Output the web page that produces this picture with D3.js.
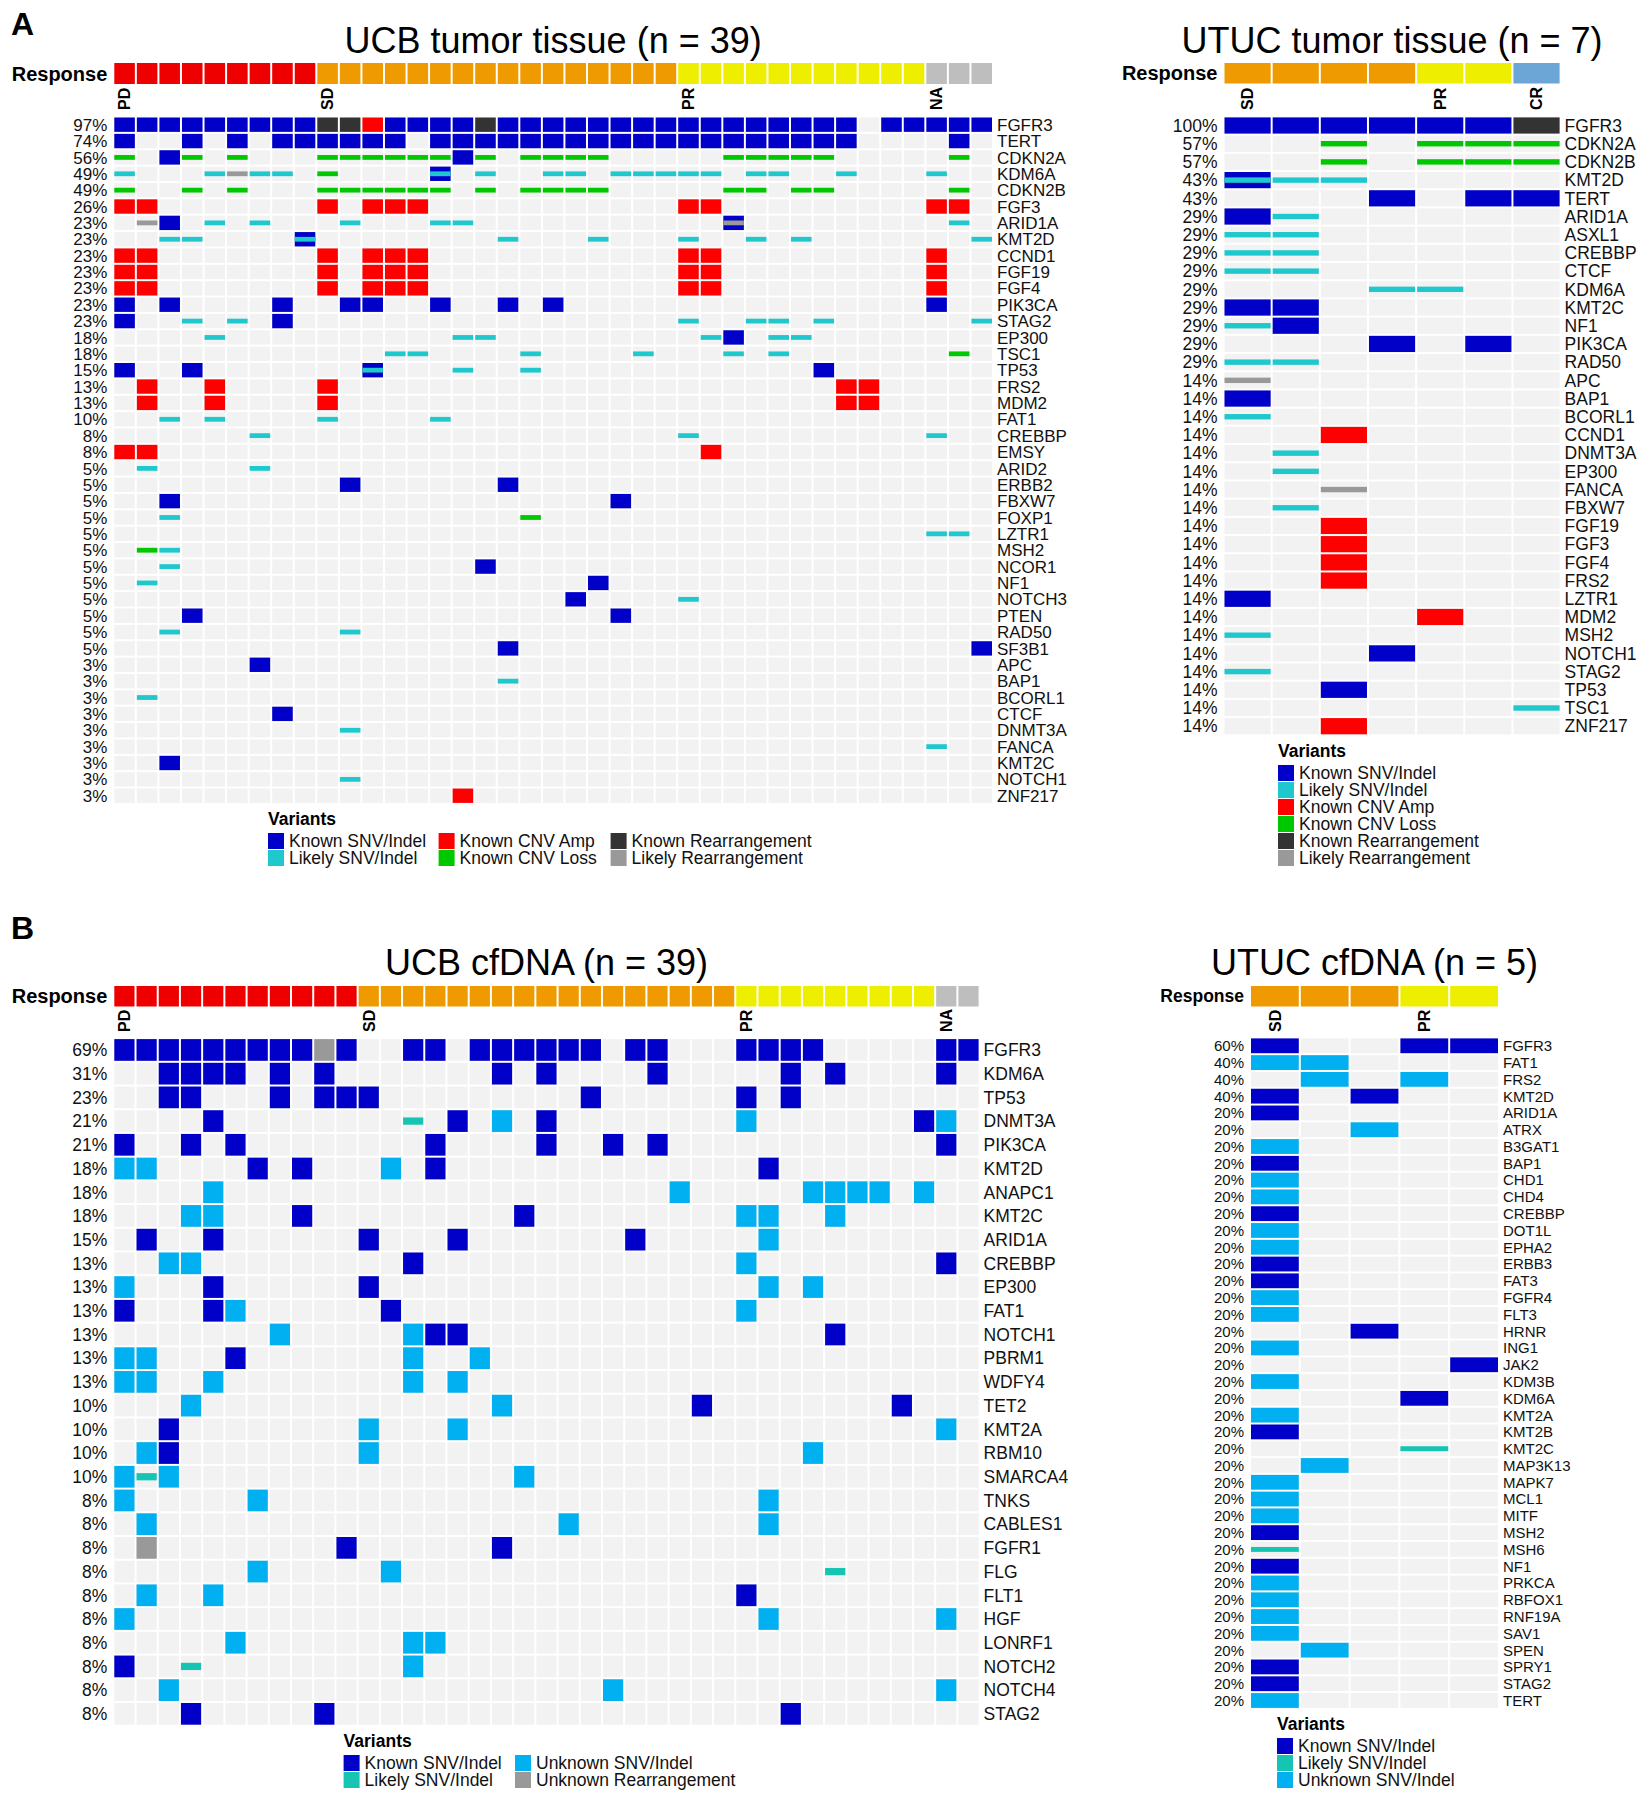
<!DOCTYPE html>
<html><head><meta charset="utf-8">
<script src="https://cdn.jsdelivr.net/npm/d3@7"></script>
<style>body{margin:0;background:#fff}svg{display:block}</style>
</head><body>
<svg id="c" width="1649" height="1800"></svg>
<script>
// ---------------- DATA ----------------
// cell codes: K Known SNV/Indel, L Likely SNV/Indel, A Known CNV Amp, D Known CNV Loss,
// R Known Rearrangement, G Likely Rearrangement, U Unknown SNV/Indel, N Unknown Rearrangement,
// M = K + L, X = K + G, "." none. Spaces are only visual separators.

// Panel A - UCB tumor tissue
const UCB_T_GENES = ["FGFR3","TERT","CDKN2A","KDM6A","CDKN2B","FGF3","ARID1A","KMT2D","CCND1","FGF19","FGF4","PIK3CA","STAG2","EP300","TSC1","TP53","FRS2","MDM2","FAT1","CREBBP","EMSY","ARID2","ERBB2","FBXW7","FOXP1","LZTR1","MSH2","NCOR1","NF1","NOTCH3","PTEN","RAD50","SF3B1","APC","BAP1","BCORL1","CTCF","DNMT3A","FANCA","KMT2C","NOTCH1","ZNF217"];
const UCB_T_PCT = ["97%","74%","56%","49%","49%","26%","23%","23%","23%","23%","23%","23%","23%","18%","18%","15%","13%","13%","10%","8%","8%","5%","5%","5%","5%","5%","5%","5%","5%","5%","5%","5%","5%","3%","3%","3%","3%","3%","3%","3%","3%","3%"];
const UCB_T_GROUPS = [["PD",9],["SD",16],["PR",11],["NA",3]];
const UCB_T_CELLS = [
"KKKKKKKKKR RAKKKKRKKK KKKKKKKKKK KKK.KKKKK",
"K..K.K.KKK KKK.KKKKKK KKKKKKKKKK KKK....K.",
"D.KD.D...D DDDDDKD.DD DD.....DDD DD.....D.",
"L...LGLL.D ....M.L..L L.LLLLL.LL ..L...L..",
"D..D.D...D DDDDD.D.DD DD.....DD. DD.....D.",
"AA.......A .AAA...... .....AA... ......AA.",
".GK.L.L... L...LL.... .......X.. .......L.",
"..LL....M. .......L.. .L...L..L. L.......L",
"AA.......A .AAA...... .....AA... ......A..",
"AA.......A .AAA...... .....AA... ......A..",
"AA.......A .AAA...... .....AA... ......A..",
"K.K....K.. KK..K..K.K .......... ......K..",
"K..L.L.K.. .......... .....L..LL .L......L",
"....L..... .....LL... ......LK.L L........",
".......... ..LL....L. ...L...L.L .......D.",
"K..K...... .M...L..L. .......... .K.......",
".A..A....A .......... .......... ..AA.....",
".A..A....A .......... .......... ..AA.....",
"..L.L....L ....L..... .......... .........",
"......L... .......... .....L.... ......L..",
"AA........ .......... ......A... .........",
".L....L... .......... .......... .........",
".......... K......K.. .......... .........",
"..K....... .......... ..K....... .........",
"..L....... ........D. .......... .........",
".......... .......... .......... ......LL.",
".DL....... .......... .......... .........",
"..L....... ......K... .......... .........",
".L........ .......... .K........ .........",
".......... .......... K....L.... .........",
"...K...... .......... ..K....... .........",
"..L....... L......... .......... .........",
".......... .......K.. .......... ........K",
"......K... .......... .......... .........",
".......... .......L.. .......... .........",
".L........ .......... .......... .........",
".......K.. .......... .......... .........",
".......... L......... .......... .........",
".......... .......... .......... ......L..",
"..K....... .......... .......... .........",
".......... L......... .......... .........",
".......... .....A.... .......... ........."
];

// Panel A - UTUC tumor tissue
const UTUC_T_GENES = ["FGFR3","CDKN2A","CDKN2B","KMT2D","TERT","ARID1A","ASXL1","CREBBP","CTCF","KDM6A","KMT2C","NF1","PIK3CA","RAD50","APC","BAP1","BCORL1","CCND1","DNMT3A","EP300","FANCA","FBXW7","FGF19","FGF3","FGF4","FRS2","LZTR1","MDM2","MSH2","NOTCH1","STAG2","TP53","TSC1","ZNF217"];
const UTUC_T_PCT = ["100%","57%","57%","43%","43%","29%","29%","29%","29%","29%","29%","29%","29%","29%","14%","14%","14%","14%","14%","14%","14%","14%","14%","14%","14%","14%","14%","14%","14%","14%","14%","14%","14%","14%"];
const UTUC_T_GROUPS = [["SD",4],["PR",2],["CR",1]];
const UTUC_T_CELLS = ["KKKKKKR","..D.DDD","..D.DDD","MLL....","...K.KK","KL.....","LL.....","LL.....","LL.....","...LL..","KK.....","LK.....","...K.K.","LL.....","G......","K......","L......","..A....",".L.....",".L.....","..G....",".L.....","..A....","..A....","..A....","..A....","K......","....A..","L......","...K...","L......","..K....","......L","..A...."];

// Panel B - UCB cfDNA
const UCB_C_GENES = ["FGFR3","KDM6A","TP53","DNMT3A","PIK3CA","KMT2D","ANAPC1","KMT2C","ARID1A","CREBBP","EP300","FAT1","NOTCH1","PBRM1","WDFY4","TET2","KMT2A","RBM10","SMARCA4","TNKS","CABLES1","FGFR1","FLG","FLT1","HGF","LONRF1","NOTCH2","NOTCH4","STAG2"];
const UCB_C_PCT = ["69%","31%","23%","21%","21%","18%","18%","18%","15%","13%","13%","13%","13%","13%","13%","10%","10%","10%","10%","8%","8%","8%","8%","8%","8%","8%","8%","8%","8%"];
const UCB_C_GROUPS = [["PD",11],["SD",17],["PR",9],["NA",2]];
const UCB_C_CELLS = [
"KKKKKKKKKN K..KK.KKKK KK.KK...KK KK.....KK",
"..KKKK.K.K .......K.K ....K..... K.K....K.",
"..KK...K.K KK........ .K......K. K........",
"....K..... ...L.K.U.K ........U. ......KU.",
"K..K.K.... ....K....K ..K.K..... .......K.",
"UU....K.K. ..U.K..... .........K .........",
"....U..... .......... .....U.... .UUUU.U..",
"...UU...K. ........K. ........UU ..U......",
".K..K..... .K...K.... ...K.....U .........",
"..UU...... ...K...... ........U. .......K.",
"U...K..... .K........ .........U .U.......",
"K...KU.... ..K....... ........U. .........",
".......U.. ...UKK.... .......... ..K......",
"UU...K.... ...U..U... .......... .........",
"UU..U..... ...U.U.... .......... .........",
"...U...... .......U.. ......K... .....K...",
"..K....... .U...U.... .......... .......U.",
".UK....... .U........ .......... .U.......",
"ULU....... ........U. .......... .........",
"U.....U... .......... .........U .........",
".U........ .......... U........U .........",
".N........ K......K.. .......... .........",
"......U... ..U....... .......... ..L......",
".U..U..... .......... ........K. .........",
"U......... .......... .........U .......U.",
".....U.... ...UU..... .......... .........",
"K..L...... ...U...... .......... .........",
"..U....... .......... ..U....... .......U.",
"...K.....K .......... .......... K........"
];

// Panel B - UTUC cfDNA
const UTUC_C_GENES = ["FGFR3","FAT1","FRS2","KMT2D","ARID1A","ATRX","B3GAT1","BAP1","CHD1","CHD4","CREBBP","DOT1L","EPHA2","ERBB3","FAT3","FGFR4","FLT3","HRNR","ING1","JAK2","KDM3B","KDM6A","KMT2A","KMT2B","KMT2C","MAP3K13","MAPK7","MCL1","MITF","MSH2","MSH6","NF1","PRKCA","RBFOX1","RNF19A","SAV1","SPEN","SPRY1","STAG2","TERT"];
const UTUC_C_PCT = ["60%","40%","40%","40%","20%","20%","20%","20%","20%","20%","20%","20%","20%","20%","20%","20%","20%","20%","20%","20%","20%","20%","20%","20%","20%","20%","20%","20%","20%","20%","20%","20%","20%","20%","20%","20%","20%","20%","20%","20%"];
const UTUC_C_GROUPS = [["SD",3],["PR",2]];
const UTUC_C_CELLS = ["K..KK","UU...",".U.U.","K.K..","K....","..U..","U....","K....","U....","U....","K....","U....","U....","K....","K....","U....","U....","..K..","U....","....K","U....","...K.","U....","K....","...L.",".U...","U....","U....","U....","K....","L....","K....","U....","U....","U....","U....",".U...","K....","K....","U...."];

const LEGEND_LABELS = {K:"Known SNV/Indel", L:"Likely SNV/Indel", A:"Known CNV Amp", D:"Known CNV Loss", R:"Known Rearrangement", G:"Likely Rearrangement", U:"Unknown SNV/Indel", N:"Unknown Rearrangement"};

// ---------------- STYLE ----------------
const FONT = "Arial, 'Liberation Sans', Helvetica, sans-serif";
const RESP_COLORS = {PD:"#EE0000", SD:"#EE9A00", PR:"#EEEE00", NA:"#BEBEBE", CR:"#6CA6D6"};
const TISSUE_COLORS = {K:"#0000C8", L:"#1FC8CC", A:"#FF0000", D:"#00C800", R:"#333333", G:"#999999"};
const CF_COLORS = {K:"#0000C8", L:"#16C4B4", U:"#00B0F0", N:"#999999"};
const THIN = new Set(["L","D","G"]);
const BG = "#F2F2F2";

const svg = d3.select("#c").attr("font-family", FONT);

function drawPanel(p) {
  const g = svg.append("g");
  const cells = p.cells.map(s => s.replace(/ /g, ""));
  const ncol = cells[0].length;
  const x = d3.scaleBand().domain(d3.range(ncol)).range([p.left - 1, p.right + 1]);
  const y = d3.scaleBand().domain(d3.range(p.genes.length)).range([p.top, p.bottom]);
  const cw = x.bandwidth(), ch = y.bandwidth();

  g.append("text").attr("x", (p.left + p.right) / 2).attr("y", p.titleY)
    .attr("text-anchor", "middle").attr("font-size", 36).attr("fill", "#000").text(p.title);

  // response bar
  const resp = [];
  p.groups.forEach(([name, n]) => { for (let i = 0; i < n; i++) resp.push(name); });
  g.selectAll("rect.resp").data(resp).join("rect").attr("class", "resp")
    .attr("x", (d, i) => x(i) + 1).attr("y", p.barTop).attr("width", cw - 2).attr("height", p.barH)
    .attr("fill", d => RESP_COLORS[d]);
  g.append("text").attr("x", p.left - 7).attr("y", p.barTop + p.barH / 2).attr("dy", "0.35em")
    .attr("text-anchor", "end").attr("font-weight", "bold").attr("font-size", p.respFont).text("Response");
  let start = 0;
  p.groups.forEach(([name, n]) => {
    const cx = x(start) + cw / 2;
    g.append("text").attr("transform", `translate(${cx},${p.labelBottom}) rotate(-90)`)
      .attr("dy", "0.36em").attr("font-weight", "bold").attr("font-size", 16).text(name);
    start += n;
  });

  // background cells
  const bg = [];
  cells.forEach((row, r) => { for (let c = 0; c < ncol; c++) bg.push({r, c}); });
  g.selectAll("rect.bg").data(bg).join("rect").attr("class", "bg")
    .attr("x", d => x(d.c) + 1).attr("y", d => y(d.r) + 1)
    .attr("width", cw - 2).attr("height", ch - 2).attr("fill", BG);

  // alterations
  const marks = [];
  cells.forEach((row, r) => {
    for (let c = 0; c < ncol; c++) {
      const code = row[c];
      if (code === ".") continue;
      const layers = code === "M" ? ["K", "L"] : code === "X" ? ["K", "G"] : [code];
      layers.forEach(t => marks.push({r, c, t}));
    }
  });
  const h = ch - 2;
  g.selectAll("rect.mk").data(marks).join("rect").attr("class", "mk")
    .attr("x", d => x(d.c) + 1).attr("width", cw - 2)
    .attr("y", d => y(d.r) + 1 + (THIN.has(d.t) ? h / 3 : 0))
    .attr("height", d => THIN.has(d.t) ? h / 3 : h)
    .attr("fill", d => p.colors[d.t]);

  // row labels
  g.selectAll("text.pct").data(p.pct).join("text").attr("class", "pct")
    .attr("x", p.left - 7).attr("y", (d, i) => y(i) + ch / 2).attr("dy", "0.36em")
    .attr("text-anchor", "end").attr("font-size", p.labFont).attr("fill", "#111").text(d => d);
  g.selectAll("text.gene").data(p.genes).join("text").attr("class", "gene")
    .attr("x", p.right + 5).attr("y", (d, i) => y(i) + ch / 2).attr("dy", "0.36em")
    .attr("font-size", p.labFont).attr("fill", "#111").text(d => d);

  // legend
  const L = p.legend;
  g.append("text").attr("x", L.x[0]).attr("y", L.titleY).attr("font-weight", "bold")
    .attr("font-size", 17.5).text("Variants");
  L.items.forEach((col, ci) => {
    col.forEach((code, ri) => {
      const sx = L.x[ci], sy = L.y0 + ri * 17;
      g.append("rect").attr("x", sx).attr("y", sy).attr("width", 16).attr("height", 16).attr("fill", p.colors[code]);
      g.append("text").attr("x", sx + 21).attr("y", sy + 8).attr("dy", "0.36em")
        .attr("font-size", 17.5).attr("fill", "#111").text(LEGEND_LABELS[code]);
    });
  });
}

svg.append("text").attr("x", 11).attr("y", 35).attr("font-weight", "bold").attr("font-size", 32).text("A");
svg.append("text").attr("x", 11).attr("y", 939).attr("font-weight", "bold").attr("font-size", 32).text("B");

drawPanel({title: "UCB tumor tissue (n = 39)", genes: UCB_T_GENES, pct: UCB_T_PCT, cells: UCB_T_CELLS, groups: UCB_T_GROUPS,
  colors: TISSUE_COLORS, left: 114.3, right: 992, top: 116.5, bottom: 803.9, barTop: 63, barH: 21, titleY: 53,
  labelBottom: 110, respFont: 20, labFont: 17,
  legend: {x: [268, 438.6, 610.6], titleY: 825, y0: 833, items: [["K","L"],["A","D"],["R","G"]]}});

drawPanel({title: "UTUC tumor tissue (n = 7)", genes: UTUC_T_GENES, pct: UTUC_T_PCT, cells: UTUC_T_CELLS, groups: UTUC_T_GROUPS,
  colors: TISSUE_COLORS, left: 1224.5, right: 1559.6, top: 116.4, bottom: 735.3, barTop: 63, barH: 20.5, titleY: 53,
  labelBottom: 110, respFont: 20, labFont: 17.5,
  legend: {x: [1278], titleY: 757, y0: 765, items: [["K","L","A","D","R","G"]]}});

drawPanel({title: "UCB cfDNA (n = 39)", genes: UCB_C_GENES, pct: UCB_C_PCT, cells: UCB_C_CELLS, groups: UCB_C_GROUPS,
  colors: CF_COLORS, left: 114.3, right: 978.6, top: 1038.1, bottom: 1725.7, barTop: 986, barH: 20.5, titleY: 975,
  labelBottom: 1032, respFont: 20, labFont: 17.5,
  legend: {x: [343.6, 515], titleY: 1747, y0: 1755, items: [["K","L"],["U","N"]]}});

drawPanel({title: "UTUC cfDNA (n = 5)", genes: UTUC_C_GENES, pct: UTUC_C_PCT, cells: UTUC_C_CELLS, groups: UTUC_C_GROUPS,
  colors: CF_COLORS, left: 1251, right: 1498, top: 1037.4, bottom: 1708.9, barTop: 986, barH: 20.5, titleY: 975,
  labelBottom: 1032, respFont: 17.5, labFont: 15,
  legend: {x: [1277], titleY: 1730, y0: 1738, items: [["K","L","U"]]}});
</script>
</body></html>
